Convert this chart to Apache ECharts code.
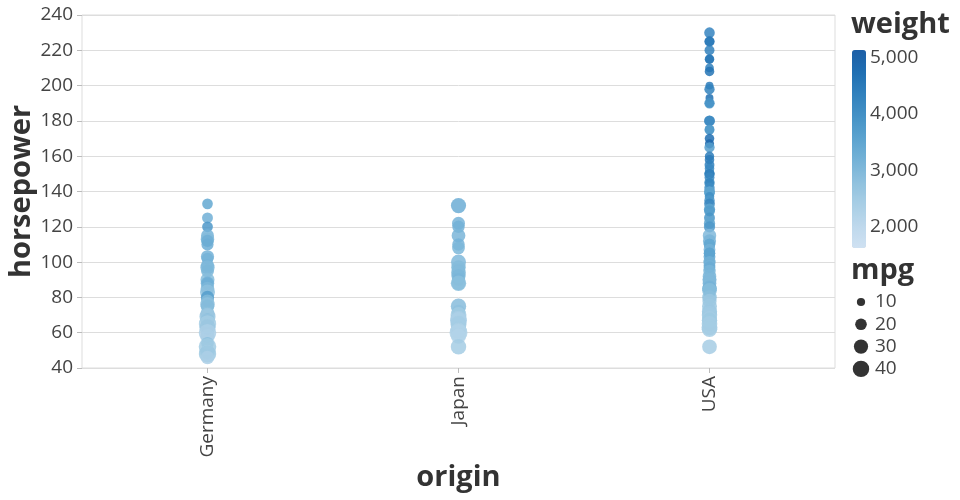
<!DOCTYPE html>
<html>
<head>
<meta charset="utf-8">
<script src="https://cdn.jsdelivr.net/npm/echarts@6/dist/echarts.min.js"></script>
<style>html,body{margin:0;padding:0;background:#fff}#c{width:960px;height:500px}</style>
</head>
<body>
<div id="c"></div>
<script>
const categories = ['Germany', 'Japan', 'USA'];

const germanyHp = [133,125,120,115,113,112,110,103,102,98,97,95,90,88,88,85,83,80,78,76,75,71,70,69,67,67,65,63,60,58,54,52,49,48,46];
const germanyWeight = [3450,3250,3820,3150,2950,3250,3300,3200,3150,3200,3000,3050,2900,3150,3250,3050,2800,3660,2950,2800,2950,2850,2600,2600,3750,2550,2450,2600,2350,2350,2850,2500,2400,2550,2350];
const germanyMpg = [16.2,17,16.5,24,26,22,21,25,20,24,29,24,28,26,20,26,32,25,24,30,26,27,30,37,26,29,43,37,44,30,23,44,31,43,26];

const japanHp = [132,122,120,115,110,108,100,97,97,95,94,92,90,88,88,75,75,72,70,68,67,67,65,65,62,61,60,58,52];
const japanWeight = [3300,3150,3200,3100,3150,3050,3000,2950,2900,2950,2950,3050,3100,2950,2850,2700,2650,2750,2500,2400,2400,2300,2400,2450,2450,2350,2250,2200,2450];
const japanMpg = [32.7,24,22,27,22.3,23,32,27,29,25,31,28,24,27,34,32,34,27,36,36,38,39,37,33,34,38,46,33,34];

const usaHp = [230,225,225,220,215,215,210,208,200,198,193,190,190,180,180,175,175,170,167,165,160,158,155,153,150,150,150,148,145,145,142,140,140,139,137,135,133,130,129,125,122,120,115,112,110,110,107,105,105,103,100,100,98,97,95,92,90,90,88,88,86,85,85,84,80,78,75,72,71,70,68,67,65,63,62,52];
const usaWeight = [4278,4951,4425,4354,4735,4499,4382,4633,4440,4341,4732,4457,3850,4380,4100,4385,3664,4746,4906,3693,4456,4499,4360,4154,4135,3672,4456,4209,3880,4294,4054,4080,3449,3570,4042,3830,4209,3504,3725,3900,3500,3820,3000,3100,3730,3365,3180,3897,3459,3520,3500,3230,3202,3329,3104,3055,3205,2970,3239,2978,3100,3055,3165,2905,2875,2600,2550,2580,2525,2530,2445,2550,2445,2451,2450,2435];
const usaMpg = [16,14,14,14,11,13,11,13,9,15,9,12,15.5,16.5,15,13,14,13,12,15,12.5,13,14,13,14,15,14,14,16,12,15.5,15,16,16,13,15.5,16.5,18,17,17,18,18,26,25,18,19,20,18,19,20,18,22,20,19,22,26,26,28,21,27,25,28,30,31,30,29,32,33,30,34,32,34,35,36,34,31];

const yTicks = {min: 40, max: 240, interval: 20};
const weightRange = [1613, 5140];
const weightTicks = [2000, 3000, 4000, 5000];
const mpgTicks = [10, 20, 30, 40];
const blues = ['#cfe1f2','#bed8ec','#a8cee5','#8fc1de','#74b2d7','#5ba3cf','#4592c6','#3181bd','#206fb2','#1c5ea6'];

function rows(cat, hp, w, m) { return hp.map((h, i) => [cat, h, w[i], m[i]]); }
const data = [].concat(
  rows(categories[0], germanyHp, germanyWeight, germanyMpg),
  rows(categories[1], japanHp, japanWeight, japanMpg),
  rows(categories[2], usaHp, usaWeight, usaMpg)
);

const FONT = 'Open Sans';
const sizeOf = mpg => 2.65 * Math.sqrt(mpg);

const chart = echarts.init(document.getElementById('c'));

const barTop = 50, barH = 198, barLeft = 852, barW = 14;
const graphics = [];
graphics.push({type: 'text', left: 851, top: 10, style: {text: 'weight', font: 'bold 29px "Open Sans"', fill: '#333'}});
weightTicks.forEach(v => {
  const y = barTop + (weightRange[1] - v) / (weightRange[1] - weightRange[0]) * barH;
  graphics.push({type: 'text', x: 870, y: y, style: {text: v.toLocaleString('en-US'), font: '19px "Open Sans"', fill: '#444', verticalAlign: 'middle'}});
});
graphics.push({type: 'text', left: 851, top: 256, style: {text: 'mpg', font: 'bold 29px "Open Sans"', fill: '#333'}});
mpgTicks.forEach((v, i) => {
  const y = 302 + i * 22.3;
  graphics.push({type: 'circle', shape: {cx: 861, cy: y, r: 2.6 * Math.sqrt(v) / 2}, style: {fill: '#333'}});
  graphics.push({type: 'text', x: 875, y: y, style: {text: String(v), font: '19px "Open Sans"', fill: '#444', verticalAlign: 'middle'}});
});

chart.setOption({
  animation: false,
  textStyle: {fontFamily: FONT},
  grid: {left: 82, right: 125, top: 15, bottom: 132, show: true, borderColor: '#ddd', borderWidth: 1, outerBoundsMode: 'none', containLabel: false},
  xAxis: {
    type: 'category', data: categories, boundaryGap: true,
    name: 'origin', nameLocation: 'middle', nameGap: 95, nameMoveOverlap: false,
    nameTextStyle: {fontSize: 29, fontWeight: 'bold', color: '#333', fontFamily: FONT},
    axisLine: {show: false},
    axisTick: {show: true, alignWithLabel: true, length: 5, lineStyle: {color: '#bbb'}},
    axisLabel: {rotate: 90, fontSize: 19, color: '#444', margin: 8, fontFamily: FONT},
    splitLine: {show: false}
  },
  yAxis: {
    type: 'value', min: yTicks.min, max: yTicks.max, interval: yTicks.interval,
    name: 'horsepower', nameLocation: 'middle', nameGap: 46, nameRotate: 90, nameMoveOverlap: false,
    nameTextStyle: {fontSize: 29, fontWeight: 'bold', color: '#333', fontFamily: FONT},
    axisLine: {show: false},
    axisTick: {show: true, length: 5, lineStyle: {color: '#bbb'}},
    axisLabel: {fontSize: 19, color: '#444', margin: 9, fontFamily: FONT},
    splitLine: {lineStyle: {color: '#ddd'}}
  },
  visualMap: {
    type: 'continuous', dimension: 2, min: weightRange[0], max: weightRange[1],
    inRange: {color: blues}, calculable: false, hoverLink: false,
    left: barLeft, top: barTop, itemWidth: barW, itemHeight: barH, padding: 0,
    text: null, showLabel: false, orient: 'vertical'
  },
  graphic: graphics,
  series: [{
    type: 'scatter',
    data: data,
    symbolSize: v => sizeOf(v[3]),
    itemStyle: {opacity: 0.85}
  }]
});
</script>
</body>
</html>
